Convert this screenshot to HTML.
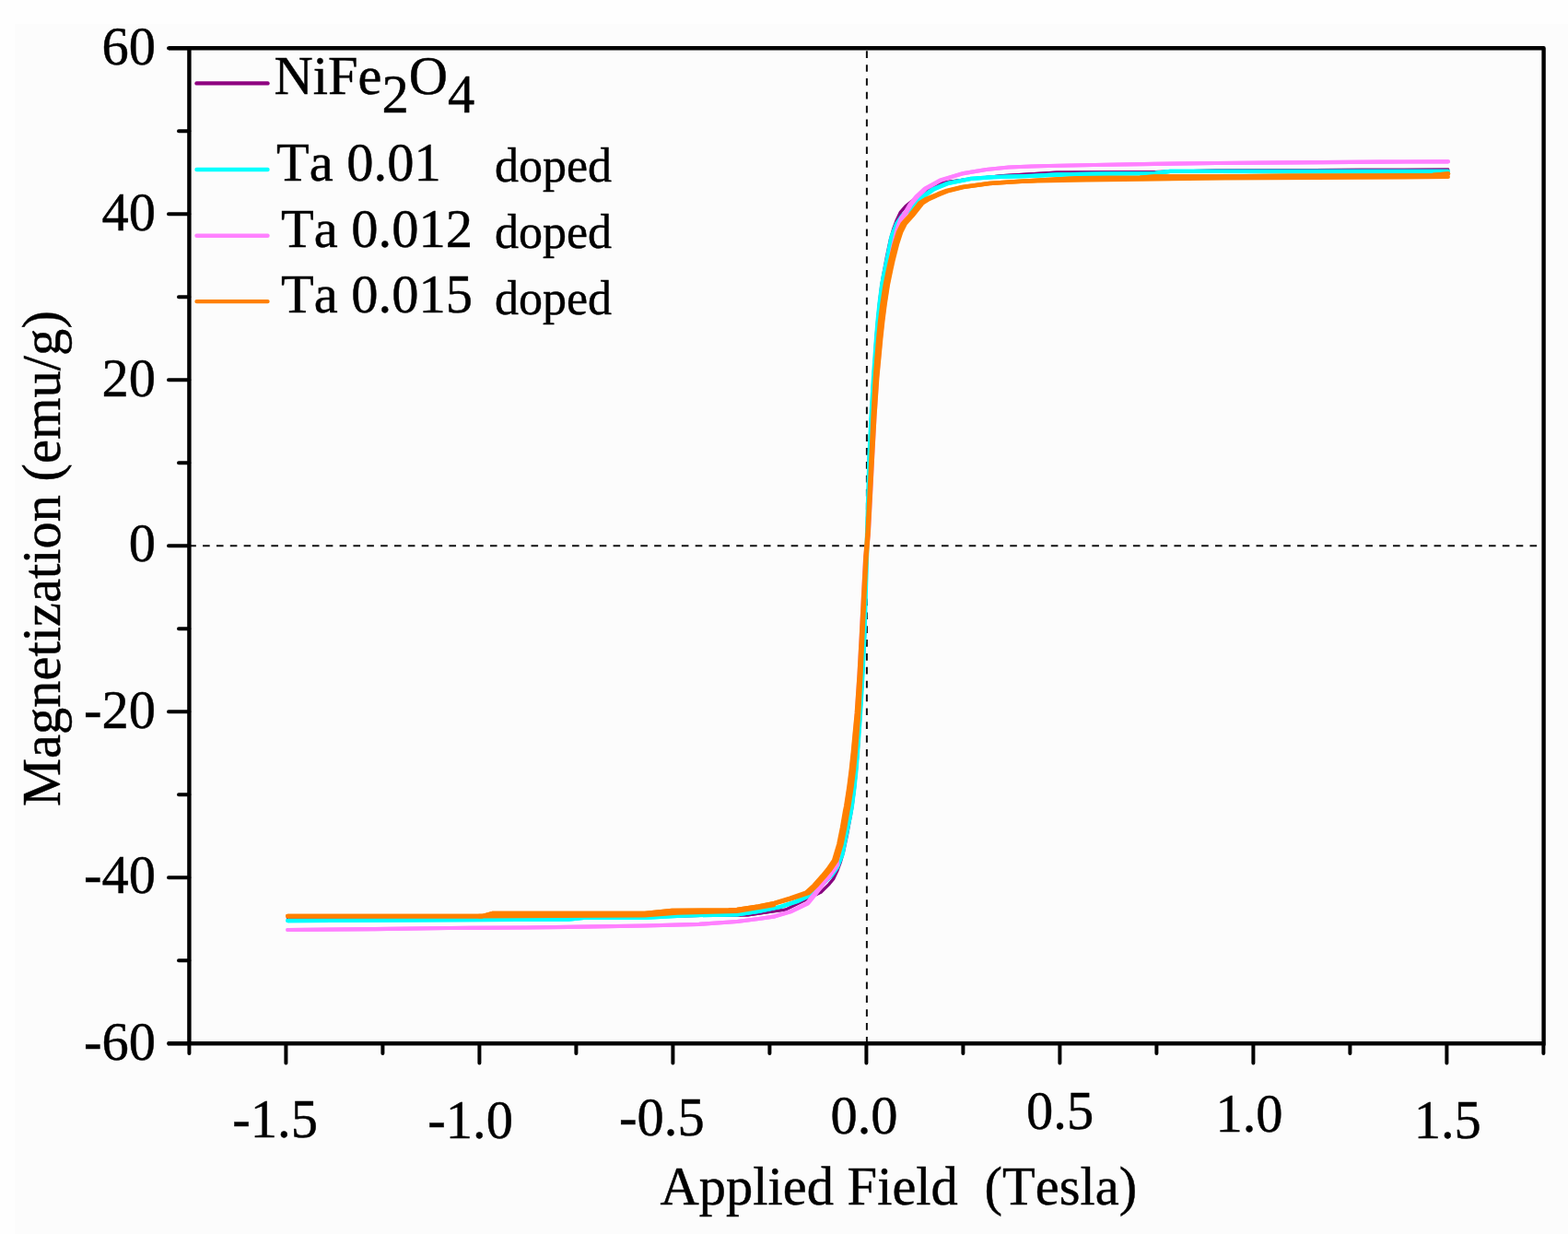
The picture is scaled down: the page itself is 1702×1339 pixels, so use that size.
<!DOCTYPE html>
<html><head><meta charset="utf-8"><title>Magnetization vs Applied Field</title>
<style>html,body{margin:0;padding:0;background:#fcfcfc;}svg{display:block;}text{font-kerning:none;font-feature-settings:'kern' 0;}</style></head>
<body><svg width="1702" height="1339" viewBox="0 0 1702 1339">
<rect width="1702" height="1339" fill="#fcfcfc"/>
<rect width="1702" height="26" fill="#fefefe"/><rect width="16" height="1339" fill="#fefefe"/>
<path d="M205.25,592.3 H1671" stroke="#111" stroke-width="2" stroke-dasharray="7.6 7.25" fill="none"/><path d="M940.9,55.3 V1130" stroke="#111" stroke-width="2" stroke-dasharray="7.7 7.156" fill="none"/>
<g fill="none" stroke-linejoin="round" stroke-linecap="round"><polyline points="312.3,996.8 640.0,996.5 700.0,994.8 760.0,993.5 811.8,993.2 853.2,987.0 891.4,968.2 900.3,959.4 904.9,953.8 908.9,945.5 912.4,936.0 915.9,924.0 919.8,905.4 923.8,884.0 925.4,874.6 927.8,855.2 929.7,835.7 931.4,816.3 932.6,797.0 934.3,774.0 936.7,731.4 938.9,689.0 941.1,592.0 943.5,495.0 945.7,452.6 948.3,410.0 950.0,387.0 951.4,367.7 953.1,348.3 955.0,328.8 957.4,309.4 959.0,300.0 963.0,278.6 966.9,260.0 970.4,248.0 973.9,238.5 977.9,230.2 984.2,223.0 993.1,215.8 1005.4,207.0 1024.4,197.9 1050.1,194.3 1089.0,190.5 1147.0,187.0 1254.0,186.3 1320.0,185.0 1478.0,184.2 1571.9,184.0" stroke="#880080" stroke-width="2.8"/><polyline points="312.3,996.8 640.0,996.5 700.0,994.8 760.0,993.5 811.8,993.2 852.6,987.0 890.6,968.2 899.5,959.4 904.1,953.8 908.1,945.5 911.6,936.0 915.1,924.0 919.0,905.4 923.0,884.0 924.6,874.6 927.0,855.2 928.9,835.7 930.6,816.3 932.0,797.0 933.7,774.0 936.3,731.4 938.5,689.0 940.9,592.0 943.1,495.0 945.3,452.6 947.7,410.0 949.4,387.0 950.6,367.7 952.3,348.3 954.2,328.8 956.6,309.4 958.2,300.0 962.2,278.6 966.1,260.0 969.6,248.0 973.1,238.5 977.1,230.2 983.4,223.0 992.3,215.8 1004.6,207.0 1023.8,197.9 1049.9,194.3 1089.0,190.5 1147.0,187.0 1254.0,186.3 1320.0,185.0 1478.0,184.2 1571.9,184.0" stroke="#880080" stroke-width="2.8"/><polyline points="312.3,999.0 617.3,997.6 633.7,995.8 700.0,995.8 744.0,993.3 800.0,992.3 823.7,988.8 847.5,984.0 865.3,978.2 878.9,971.7 884.8,965.3 890.1,961.9 902.6,950.2 908.9,941.3 914.3,927.8 918.8,905.4 923.2,884.0 924.9,874.6 927.4,855.2 929.4,835.7 931.0,816.3 932.4,797.0 934.0,774.0 936.5,731.4 938.5,689.0 941.3,592.0 944.1,495.0 946.5,452.6 949.2,410.0 951.0,387.0 952.4,367.7 954.2,348.3 956.2,328.8 958.7,309.4 960.4,300.0 964.8,278.6 969.3,256.2 974.7,242.7 981.0,233.8 993.5,222.1 1005.2,211.4 1013.7,205.4 1029.9,198.8 1054.2,193.8 1078.7,192.2 1103.4,191.4 1120.0,190.8 1147.0,189.5 1204.5,188.5 1253.9,188.0 1270.3,185.8 1319.7,185.8 1400.0,186.0 1571.9,186.0" stroke="#00ffff" stroke-width="4.3"/><polyline points="312.3,999.0 617.3,997.6 633.7,995.8 700.0,995.8 744.0,993.3 800.0,992.3 823.3,988.8 846.5,984.0 863.9,978.2 877.3,971.7 883.2,965.3 888.5,961.9 901.0,950.2 907.3,941.3 912.7,927.8 917.2,905.4 921.6,884.0 923.3,874.6 925.8,855.2 927.8,835.7 929.6,816.3 931.0,797.0 932.8,774.0 935.5,731.4 937.9,689.0 940.7,592.0 943.5,495.0 945.5,452.6 948.0,410.0 949.6,387.0 951.0,367.7 952.6,348.3 954.6,328.8 957.1,309.4 958.8,300.0 963.2,278.6 967.7,256.2 973.1,242.7 979.4,233.8 991.9,222.1 1003.6,211.4 1012.1,205.4 1028.7,198.8 1053.8,193.8 1078.7,192.2 1103.4,191.4 1120.0,190.8 1147.0,189.5 1204.5,188.5 1253.9,188.0 1270.3,185.8 1319.7,185.8 1400.0,186.0 1571.9,186.0" stroke="#00ffff" stroke-width="4.3"/><polyline points="312.3,1009.0 405.8,1008.2 488.0,1007.0 570.3,1006.5 617.3,1005.8 700.0,1004.5 758.8,1002.8 800.0,1000.0 823.7,997.0 841.5,994.3 859.4,988.9 877.2,980.3 886.0,969.4 894.8,957.6 900.7,950.6 909.2,938.2 908.8,934.0 913.3,914.0 916.8,894.0 920.1,874.6 923.1,855.2 925.6,835.7 927.5,816.3 929.2,797.0 931.1,774.0 933.6,731.4 935.5,689.0 937.6,646.3 939.8,604.0 941.3,592.0 942.8,580.0 945.0,537.7 947.1,495.0 949.4,452.6 952.1,410.0 954.2,387.0 955.9,367.7 958.0,348.3 960.5,328.8 963.5,309.4 966.8,290.0 970.3,270.0 974.8,250.0 979.2,237.4 983.8,231.0 989.0,222.0 995.8,213.5 1005.5,204.5 1021.8,195.5 1046.1,188.1 1070.5,184.0 1095.1,181.5 1120.0,180.5 1138.7,180.0 1188.0,179.0 1253.9,177.8 1319.7,177.0 1400.0,176.3 1500.0,175.6 1571.9,175.3" stroke="#ff80ff" stroke-width="4.2"/><polyline points="312.3,1009.0 405.8,1008.2 488.0,1007.0 570.3,1006.5 617.3,1005.8 700.0,1004.5 758.8,1002.8 800.0,1000.0 823.3,997.0 840.7,994.3 858.2,988.9 875.6,980.3 884.4,969.4 893.2,957.6 899.1,950.6 907.6,938.2 907.2,934.0 911.7,914.0 915.2,894.0 918.5,874.6 921.5,855.2 924.0,835.7 926.1,816.3 927.8,797.0 929.9,774.0 932.6,731.4 934.9,689.0 937.0,646.3 939.2,604.0 940.7,592.0 942.2,580.0 944.4,537.7 946.5,495.0 948.4,452.6 950.9,410.0 952.8,387.0 954.5,367.7 956.4,348.3 958.9,328.8 961.9,309.4 965.2,290.0 968.7,270.0 973.2,250.0 977.6,237.4 982.2,231.0 987.4,222.0 994.2,213.5 1003.9,204.5 1020.4,195.5 1045.5,188.1 1070.5,184.0 1095.1,181.5 1120.0,180.5 1138.7,180.0 1188.0,179.0 1253.9,177.8 1319.7,177.0 1400.0,176.3 1500.0,175.6 1571.9,175.3" stroke="#ff80ff" stroke-width="4.2"/><polyline points="312.3,994.1 523.3,994.1 535.0,991.0 700.0,991.0 729.4,988.1 791.0,987.6 800.0,987.0 823.8,983.5 841.9,980.0 860.0,974.7 877.9,968.8 886.7,960.6 895.5,950.6 901.4,943.5 908.1,933.8 913.5,915.8 917.1,897.9 920.2,880.0 921.3,874.6 924.3,855.2 926.8,835.7 928.7,816.3 930.3,797.0 932.1,774.0 934.4,731.4 936.3,689.0 938.3,646.3 940.5,604.0 941.5,592.0 942.5,580.0 944.7,537.7 946.9,495.0 949.2,452.6 952.1,410.0 954.3,387.0 956.1,367.7 958.2,348.3 960.7,328.8 963.7,309.4 967.3,292.0 969.3,283.0 973.8,265.1 978.1,251.7 982.6,242.7 990.7,233.8 1001.4,220.3 1008.6,215.8 1020.9,210.5 1029.7,206.9 1045.7,203.0 1074.0,199.0 1096.5,197.5 1147.0,194.5 1171.6,193.4 1237.4,192.9 1253.9,191.6 1319.7,191.6 1400.0,190.8 1500.0,190.5 1555.0,190.0 1571.9,188.5" stroke="#ff8000" stroke-width="4.6"/><polyline points="312.3,994.1 523.3,994.1 535.0,991.0 700.0,991.0 729.4,988.1 791.0,987.6 800.0,987.0 823.2,983.5 840.3,980.0 857.6,974.7 874.9,968.8 883.7,960.6 892.5,950.6 898.4,943.5 905.1,933.8 910.5,915.8 914.1,897.9 917.2,880.0 918.3,874.6 921.3,855.2 923.8,835.7 925.9,816.3 927.7,797.0 929.9,774.0 932.8,731.4 935.1,689.0 937.3,646.3 939.5,604.0 940.5,592.0 941.5,580.0 943.7,537.7 945.7,495.0 947.6,452.6 949.9,410.0 951.7,387.0 953.3,367.7 955.2,348.3 957.7,328.8 960.7,309.4 964.3,292.0 966.3,283.0 970.8,265.1 975.1,251.7 979.6,242.7 987.7,233.8 998.4,220.3 1005.6,215.8 1018.3,210.5 1027.5,206.9 1044.3,203.0 1074.0,199.0 1096.5,197.5 1147.0,194.5 1171.6,193.4 1237.4,192.9 1253.9,191.6 1319.7,191.6 1400.0,190.8 1500.0,190.5 1555.0,190.0 1571.9,188.5" stroke="#ff8000" stroke-width="4.6"/><polyline points="520.0,994.1 700.0,993.3 735.0,990.5 800.0,988.8 840.0,982.0" stroke="#ff8000" stroke-width="4.6"/><polyline points="1100.0,197.0 1180.0,195.3 1240.0,194.6 1330.0,193.5 1571.9,192.0" stroke="#ff8000" stroke-width="4.2"/></g>
<path d="M205.4,52.3 V1132.3 M183,52.3 H1675.6 V1132.3 M182,1132.3 H1677.6999999999998" stroke="#000" stroke-width="4.4" fill="none" stroke-linecap="butt" stroke-linejoin="round"/><path d="M183,52.3 H205.4 M194,142.3 H205.4 M183,232.3 H205.4 M194,322.3 H205.4 M183,412.3 H205.4 M194,502.3 H205.4 M183,592.3 H205.4 M194,682.3 H205.4 M183,772.3 H205.4 M194,862.3 H205.4 M183,952.3 H205.4 M194,1042.3 H205.4 M183,1132.3 H205.4 M205.4,1132.3 V1143 M310.4,1132.3 V1153.5 M415.4,1132.3 V1143 M520.4,1132.3 V1153.5 M625.4,1132.3 V1143 M730.4,1132.3 V1153.5 M835.4,1132.3 V1143 M940.4,1132.3 V1153.5 M1045.4,1132.3 V1143 M1150.4,1132.3 V1153.5 M1255.4,1132.3 V1143 M1360.4,1132.3 V1153.5 M1465.4,1132.3 V1143 M1570.4,1132.3 V1153.5 M1675.4,1132.3 V1143 " stroke="#000" stroke-width="4" fill="none" stroke-linecap="round"/>
<line x1="213.5" y1="90.4" x2="290.5" y2="90.4" stroke="#8e0080" stroke-width="4.4" stroke-linecap="round"/><line x1="213.5" y1="184" x2="290.5" y2="184" stroke="#00ffff" stroke-width="4.4" stroke-linecap="round"/><line x1="213.5" y1="255.7" x2="290.5" y2="255.7" stroke="#ff80ff" stroke-width="4.4" stroke-linecap="round"/><line x1="213.5" y1="327.1" x2="290.5" y2="327.1" stroke="#ff8000" stroke-width="4.4" stroke-linecap="round"/>
<text x="297.5" y="102.2" font-size="58.5" font-family="Liberation Serif, Times New Roman, serif" fill="#000" stroke="#000" stroke-width="0.45">NiFe<tspan dy="20">2</tspan><tspan dy="-20">O</tspan><tspan dy="20">4</tspan></text><text x="300" y="195.7" font-size="58.5" font-family="Liberation Serif, Times New Roman, serif" fill="#000" stroke="#000" stroke-width="0.45">Ta 0.01</text><text x="305" y="267.7" font-size="58.5" font-family="Liberation Serif, Times New Roman, serif" fill="#000" stroke="#000" stroke-width="0.45">Ta 0.012</text><text x="305" y="339" font-size="58.5" font-family="Liberation Serif, Times New Roman, serif" fill="#000" stroke="#000" stroke-width="0.45">Ta 0.015</text><text x="537" y="197" font-size="52" font-family="Liberation Serif, Times New Roman, serif" fill="#000" stroke="#000" stroke-width="0.45">doped</text><text x="537" y="269" font-size="52" font-family="Liberation Serif, Times New Roman, serif" fill="#000" stroke="#000" stroke-width="0.45">doped</text><text x="537" y="341" font-size="52" font-family="Liberation Serif, Times New Roman, serif" fill="#000" stroke="#000" stroke-width="0.45">doped</text><text x="169" y="70" font-size="58.5" text-anchor="end" font-family="Liberation Serif, Times New Roman, serif" fill="#000" stroke="#000" stroke-width="0.45">60</text><text x="169" y="249.5" font-size="58.5" text-anchor="end" font-family="Liberation Serif, Times New Roman, serif" fill="#000" stroke="#000" stroke-width="0.45">40</text><text x="169" y="430" font-size="58.5" text-anchor="end" font-family="Liberation Serif, Times New Roman, serif" fill="#000" stroke="#000" stroke-width="0.45">20</text><text x="169" y="608.5" font-size="58.5" text-anchor="end" font-family="Liberation Serif, Times New Roman, serif" fill="#000" stroke="#000" stroke-width="0.45">0</text><text x="169" y="789.5" font-size="58.5" text-anchor="end" font-family="Liberation Serif, Times New Roman, serif" fill="#000" stroke="#000" stroke-width="0.45">-20</text><text x="169" y="969" font-size="58.5" text-anchor="end" font-family="Liberation Serif, Times New Roman, serif" fill="#000" stroke="#000" stroke-width="0.45">-40</text><text x="169" y="1150" font-size="58.5" text-anchor="end" font-family="Liberation Serif, Times New Roman, serif" fill="#000" stroke="#000" stroke-width="0.45">-60</text><text x="298.6" y="1233.6" font-size="58.5" text-anchor="middle" font-family="Liberation Serif, Times New Roman, serif" fill="#000" stroke="#000" stroke-width="0.45">-1.5</text><text x="510.6" y="1234.5" font-size="58.5" text-anchor="middle" font-family="Liberation Serif, Times New Roman, serif" fill="#000" stroke="#000" stroke-width="0.45">-1.0</text><text x="718.4" y="1231.6" font-size="58.5" text-anchor="middle" font-family="Liberation Serif, Times New Roman, serif" fill="#000" stroke="#000" stroke-width="0.45">-0.5</text><text x="938" y="1230.1" font-size="58.5" text-anchor="middle" font-family="Liberation Serif, Times New Roman, serif" fill="#000" stroke="#000" stroke-width="0.45">0.0</text><text x="1150.6" y="1225.4" font-size="58.5" text-anchor="middle" font-family="Liberation Serif, Times New Roman, serif" fill="#000" stroke="#000" stroke-width="0.45">0.5</text><text x="1356" y="1228" font-size="58.5" text-anchor="middle" font-family="Liberation Serif, Times New Roman, serif" fill="#000" stroke="#000" stroke-width="0.45">1.0</text><text x="1571.2" y="1234.6" font-size="58.5" text-anchor="middle" font-family="Liberation Serif, Times New Roman, serif" fill="#000" stroke="#000" stroke-width="0.45">1.5</text><text x="716.5" y="1306.5" font-size="58.5" font-family="Liberation Serif, Times New Roman, serif" fill="#000" stroke="#000" stroke-width="0.45">Applied Field</text><text x="1068.5" y="1306.5" font-size="58.5" font-family="Liberation Serif, Times New Roman, serif" fill="#000" stroke="#000" stroke-width="0.45">(Tesla)</text><text transform="translate(64.5,875) rotate(-90)" font-size="58.5" font-family="Liberation Serif, Times New Roman, serif" fill="#000" stroke="#000" stroke-width="0.45">Magnetization (emu/g)</text>
</svg></body></html>
